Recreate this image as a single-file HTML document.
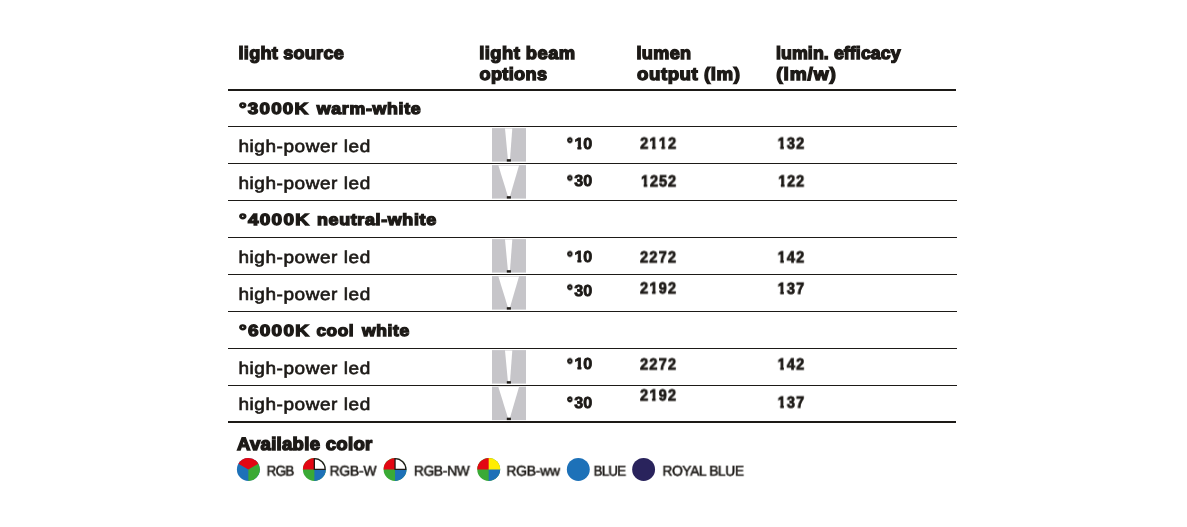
<!DOCTYPE html>
<html><head><meta charset="utf-8"><title>light source table</title>
<style>
html,body{margin:0;padding:0;background:#fff;}
body{width:1187px;height:527px;position:relative;overflow:hidden;font-family:"Liberation Sans",sans-serif;color:#1d1a17;}
.ln{position:absolute;left:228px;width:729px;height:1px;background:#1d1a17;}
.ln.th{height:2px;width:728px;}
.t{position:absolute;white-space:nowrap;line-height:1;transform-origin:0 0;will-change:transform;text-rendering:geometricPrecision;}
.h{font-size:17.6px;font-weight:bold;-webkit-text-stroke:1.35px #1d1a17;}
.s{font-size:16.1px;font-weight:bold;-webkit-text-stroke:1.3px #1d1a17;}
.r{font-size:17.3px;font-weight:normal;-webkit-text-stroke:0.65px #1d1a17;}
.n{font-size:16.0px;font-weight:bold;-webkit-text-stroke:0.85px #1d1a17;}
.d{font-size:16.0px;font-weight:bold;-webkit-text-stroke:1.25px #1d1a17;}
.a{font-size:18.0px;font-weight:bold;-webkit-text-stroke:1.4px #1d1a17;}
.c{font-size:14.2px;font-weight:normal;-webkit-text-stroke:0.55px #1d1a17;}
.o{display:inline-block;clip-path:polygon(0 -5px,100% -5px,100% 9.59px,6.80px 9.59px,6.80px 30px,2.86px 30px,2.86px 9.59px,0 9.59px);}
</style></head><body>
<div class="ln th" style="top:89px"></div>
<div class="ln" style="top:126px"></div>
<div class="ln" style="top:163px"></div>
<div class="ln" style="top:200px"></div>
<div class="ln" style="top:237px"></div>
<div class="ln" style="top:274px"></div>
<div class="ln" style="top:311px"></div>
<div class="ln" style="top:348px"></div>
<div class="ln" style="top:385px"></div>
<div class="ln th" style="top:421px"></div>
<div class="t h" id="h1" style="left:238px;top:45px;letter-spacing:0.240px;transform:translate(0.59px,0.03px) scaleX(1.0273)">light source</div>
<div class="t h" id="h2a" style="left:479px;top:45px;letter-spacing:0.419px;transform:translate(0.28px,0.03px) scaleX(1.0452)">light beam</div>
<div class="t h" id="h2b" style="left:479px;top:66px;letter-spacing:0.323px;transform:translate(0.50px,0.33px) scaleX(1.0315)">options</div>
<div class="t h" id="h3a" style="left:636px;top:45px;letter-spacing:0.332px;transform:translate(0.49px,0.03px) scaleX(1.0268)">lumen</div>
<div class="t h" id="h3b" style="left:637px;top:66px;letter-spacing:0.522px;transform:translate(0.00px,0.33px) scaleX(1.0604)">output (lm)</div>
<div class="t h" id="h4a" style="left:775px;top:45px;letter-spacing:0.088px;transform:translate(0.99px,0.03px) scaleX(1.0102)">lumin. efficacy</div>
<div class="t h" id="h4b" style="left:776px;top:66px;letter-spacing:0.811px;transform:translate(0.23px,0.33px) scaleX(1.0876)">(lm/w)</div>
<div class="t s" id="s1a" style="left:239px;top:101px;letter-spacing:1.050px;transform:translate(0.05px,0.25px) scaleX(1.1676)">°3000K</div>
<div class="t s" id="s1b" style="left:316px;top:101px;letter-spacing:0.631px;transform:translate(0.67px,0.25px) scaleX(1.1049)">warm-white</div>
<div class="t s" id="s2a" style="left:239px;top:212px;letter-spacing:1.102px;transform:translate(0.05px,0.25px) scaleX(1.1774)">°4000K</div>
<div class="t s" id="s2b" style="left:316px;top:212px;letter-spacing:0.569px;transform:translate(0.98px,0.25px) scaleX(1.1140)">neutral-white</div>
<div class="t s" id="s3a" style="left:239px;top:323px;letter-spacing:1.102px;transform:translate(0.05px,0.25px) scaleX(1.1774)">°6000K</div>
<div class="t s" id="s3b" style="left:316px;top:323px;letter-spacing:0.482px;transform:translate(0.50px,0.25px) scaleX(1.0713)">cool</div>
<div class="t s" id="s3c" style="left:361px;top:323px;letter-spacing:0.574px;transform:translate(0.95px,0.25px) scaleX(1.0888)">white</div>
<div class="t r" id="r1" style="left:238px;top:138px;letter-spacing:0.514px;transform:translate(0.44px,0.08px) scaleX(1.0985)">high-power led</div>
<div class="t r" id="r2" style="left:238px;top:175px;letter-spacing:0.514px;transform:translate(0.44px,0.18px) scaleX(1.0985)">high-power led</div>
<div class="t r" id="r3" style="left:238px;top:249px;letter-spacing:0.514px;transform:translate(0.44px,0.28px) scaleX(1.0985)">high-power led</div>
<div class="t r" id="r4" style="left:238px;top:286px;letter-spacing:0.514px;transform:translate(0.44px,0.38px) scaleX(1.0985)">high-power led</div>
<div class="t r" id="r5" style="left:238px;top:359px;letter-spacing:0.514px;transform:translate(0.44px,0.88px) scaleX(1.0985)">high-power led</div>
<div class="t r" id="r6" style="left:238px;top:396px;letter-spacing:0.514px;transform:translate(0.44px,0.48px) scaleX(1.0985)">high-power led</div>
<div class="t a" id="av" style="left:236px;top:435px;letter-spacing:0.275px;transform:translate(0.92px,0.45px) scaleX(1.0310)">Available color</div>
<div class="t c" id="l1" style="left:266px;top:464px;letter-spacing:-0.811px;transform:translate(0.57px,0.62px) scaleX(0.9477)">RGB</div>
<div class="t c" id="l2" style="left:329px;top:464px;letter-spacing:-0.236px;transform:translate(0.54px,0.62px) scaleX(0.9808)">RGB-W</div>
<div class="t c" id="l3" style="left:413px;top:464px;letter-spacing:-0.329px;transform:translate(0.85px,0.62px) scaleX(0.9726)">RGB-NW</div>
<div class="t c" id="l4" style="left:506px;top:464px;letter-spacing:-0.224px;transform:translate(0.34px,0.62px) scaleX(0.9802)">RGB-ww</div>
<div class="t c" id="l5" style="left:593px;top:464px;letter-spacing:-0.795px;transform:translate(0.58px,0.62px) scaleX(0.9376)">BLUE</div>
<div class="t c" id="l6" style="left:662px;top:464px;letter-spacing:-0.338px;transform:translate(0.45px,0.62px) scaleX(0.9660)">ROYAL BLUE</div>
<div class="t d" id="a1d" style="left:566px;top:136px;letter-spacing:0.000px;transform:translate(0.99px,0.76px) scaleX(0.8960)">°</div>
<div class="t n" id="a1" style="left:574px;top:136px;letter-spacing:-0.175px;transform:translate(0.57px,0.57px) scaleX(1.0000)"><span class="o">1</span>0</div>
<div class="t n" id="b1" style="left:640px;top:136px;letter-spacing:1.435px;transform:translate(0.19px,0.57px) scaleX(0.9000)">2<span class="o">1</span><span class="o">1</span>2</div>
<div class="t n" id="c1" style="left:777px;top:136px;letter-spacing:1.340px;transform:translate(0.64px,0.57px) scaleX(0.9000)"><span class="o">1</span>32</div>
<div class="t d" id="a2d" style="left:566px;top:174px;letter-spacing:0.000px;transform:translate(0.99px,0.56px) scaleX(0.8960)">°</div>
<div class="t n" id="a2" style="left:574px;top:174px;letter-spacing:0.075px;transform:translate(0.32px,0.38px) scaleX(1.0000)">30</div>
<div class="t n" id="b2" style="left:641px;top:174px;letter-spacing:1.120px;transform:translate(0.04px,0.38px) scaleX(0.9000)"><span class="o">1</span>252</div>
<div class="t n" id="c2" style="left:778px;top:174px;letter-spacing:0.951px;transform:translate(0.34px,0.38px) scaleX(0.9000)"><span class="o">1</span>22</div>
<div class="t d" id="a3d" style="left:566px;top:250px;letter-spacing:0.000px;transform:translate(0.99px,0.56px) scaleX(0.8960)">°</div>
<div class="t n" id="a3" style="left:574px;top:250px;letter-spacing:-0.175px;transform:translate(0.57px,0.38px) scaleX(1.0000)"><span class="o">1</span>0</div>
<div class="t n" id="b3" style="left:640px;top:250px;letter-spacing:1.472px;transform:translate(0.09px,0.38px) scaleX(0.9000)">2272</div>
<div class="t n" id="c3" style="left:777px;top:250px;letter-spacing:1.340px;transform:translate(0.64px,0.38px) scaleX(0.9000)"><span class="o">1</span>42</div>
<div class="t d" id="a4d" style="left:566px;top:283px;letter-spacing:0.000px;transform:translate(0.99px,0.76px) scaleX(0.8960)">°</div>
<div class="t n" id="a4" style="left:574px;top:283px;letter-spacing:0.075px;transform:translate(0.32px,0.57px) scaleX(1.0000)">30</div>
<div class="t n" id="b4" style="left:640px;top:281px;letter-spacing:1.472px;transform:translate(0.09px,0.38px) scaleX(0.9000)">2<span class="o">1</span>92</div>
<div class="t n" id="c4" style="left:777px;top:281px;letter-spacing:1.403px;transform:translate(0.64px,0.77px) scaleX(0.9000)"><span class="o">1</span>37</div>
<div class="t d" id="a5d" style="left:566px;top:357px;letter-spacing:0.000px;transform:translate(0.99px,0.66px) scaleX(0.8960)">°</div>
<div class="t n" id="a5" style="left:574px;top:357px;letter-spacing:-0.175px;transform:translate(0.57px,0.47px) scaleX(1.0000)"><span class="o">1</span>0</div>
<div class="t n" id="b5" style="left:640px;top:357px;letter-spacing:1.472px;transform:translate(0.09px,0.47px) scaleX(0.9000)">2272</div>
<div class="t n" id="c5" style="left:777px;top:357px;letter-spacing:1.340px;transform:translate(0.64px,0.47px) scaleX(0.9000)"><span class="o">1</span>42</div>
<div class="t d" id="a6d" style="left:566px;top:395px;letter-spacing:0.000px;transform:translate(0.99px,0.96px) scaleX(0.8960)">°</div>
<div class="t n" id="a6" style="left:574px;top:395px;letter-spacing:0.075px;transform:translate(0.32px,0.77px) scaleX(1.0000)">30</div>
<div class="t n" id="b6" style="left:640px;top:388px;letter-spacing:1.472px;transform:translate(0.09px,0.47px) scaleX(0.9000)">2<span class="o">1</span>92</div>
<div class="t n" id="c6" style="left:777px;top:395px;letter-spacing:1.403px;transform:translate(0.64px,0.57px) scaleX(0.9000)"><span class="o">1</span>37</div>
<svg style="position:absolute;left:0;top:0" width="1187" height="527" viewBox="0 0 1187 527">
<rect x="492.0" y="128.1" width="34" height="33.5" fill="#c6c5c9"/><polygon points="505.00,128.50 512.30,128.50 510.00,159.30 507.90,159.30" fill="#fff"/><rect x="506.80" y="159.20" width="4.1" height="2.4" fill="#1d1a17"/>
<rect x="492.0" y="165.1" width="34" height="33.5" fill="#c6c5c9"/><polygon points="498.40,165.50 519.00,165.50 510.00,196.30 507.90,196.30" fill="#fff"/><rect x="506.80" y="196.20" width="4.1" height="2.4" fill="#1d1a17"/>
<rect x="492.0" y="239.1" width="34" height="33.5" fill="#c6c5c9"/><polygon points="505.00,239.50 512.30,239.50 510.00,270.30 507.90,270.30" fill="#fff"/><rect x="506.80" y="270.20" width="4.1" height="2.4" fill="#1d1a17"/>
<rect x="492.0" y="276.1" width="34" height="33.5" fill="#c6c5c9"/><polygon points="498.40,276.50 519.00,276.50 510.00,307.30 507.90,307.30" fill="#fff"/><rect x="506.80" y="307.20" width="4.1" height="2.4" fill="#1d1a17"/>
<rect x="492.0" y="350.1" width="34" height="33.5" fill="#c6c5c9"/><polygon points="505.00,350.50 512.30,350.50 510.00,381.30 507.90,381.30" fill="#fff"/><rect x="506.80" y="381.20" width="4.1" height="2.4" fill="#1d1a17"/>
<rect x="492.0" y="386.6" width="34" height="33.5" fill="#c6c5c9"/><polygon points="498.40,387.00 519.00,387.00 510.00,417.80 507.90,417.80" fill="#fff"/><rect x="506.80" y="417.70" width="4.1" height="2.4" fill="#1d1a17"/>
<circle cx="248.35" cy="469.45" r="11.45" fill="#1d71b8"/><path d="M248.35,469.45 L248.35,480.90 A11.45,11.45 0 0 0 257.12,462.09 Z" fill="#3aaa35"/><path d="M248.35,469.45 L258.27,463.72 A11.45,11.45 0 0 0 238.43,463.72 Z" fill="#e30613"/>
<circle cx="314.35" cy="469.45" r="11.45" fill="#3aaa35"/><path d="M314.35,469.45 L316.34,458.17 A11.45,11.45 0 0 0 302.90,469.45 Z" fill="#e30613"/><path d="M314.35,469.45 L314.35,480.90 A11.45,11.45 0 0 0 325.63,467.46 Z" fill="#1d71b8"/><path d="M314.35,469.45 L325.80,469.45 A11.45,11.45 0 0 0 314.35,458.00 Z" fill="#fff"/><path d="M314.35,469.45 L325.15,469.45 A10.799999999999999,10.799999999999999 0 0 0 314.35,458.65 Z" fill="#fff" stroke="#1d1a17" stroke-width="1.3"/>
<circle cx="395.05" cy="469.45" r="11.45" fill="#3aaa35"/><path d="M395.05,469.45 L397.04,458.17 A11.45,11.45 0 0 0 383.60,469.45 Z" fill="#e30613"/><path d="M395.05,469.45 L395.05,480.90 A11.45,11.45 0 0 0 406.33,467.46 Z" fill="#1d71b8"/><path d="M395.05,469.45 L406.50,469.45 A11.45,11.45 0 0 0 395.05,458.00 Z" fill="#fff"/><path d="M395.05,469.45 L405.85,469.45 A10.799999999999999,10.799999999999999 0 0 0 395.05,458.65 Z" fill="#fff" stroke="#1d1a17" stroke-width="1.3"/>
<circle cx="488.7" cy="469.45" r="11.45" fill="#3aaa35"/><path d="M488.70,469.45 L490.69,458.17 A11.45,11.45 0 0 0 477.25,469.45 Z" fill="#e30613"/><path d="M488.70,469.45 L488.70,480.90 A11.45,11.45 0 0 0 499.98,467.46 Z" fill="#1d71b8"/><path d="M488.70,469.45 L500.15,469.45 A11.45,11.45 0 0 0 488.70,458.00 Z" fill="#ffed00"/>
<circle cx="578.3" cy="469.45" r="11.45" fill="#1d71b8"/>
<circle cx="643.6" cy="469.45" r="11.45" fill="#29235c"/>
</svg>
</body></html>
